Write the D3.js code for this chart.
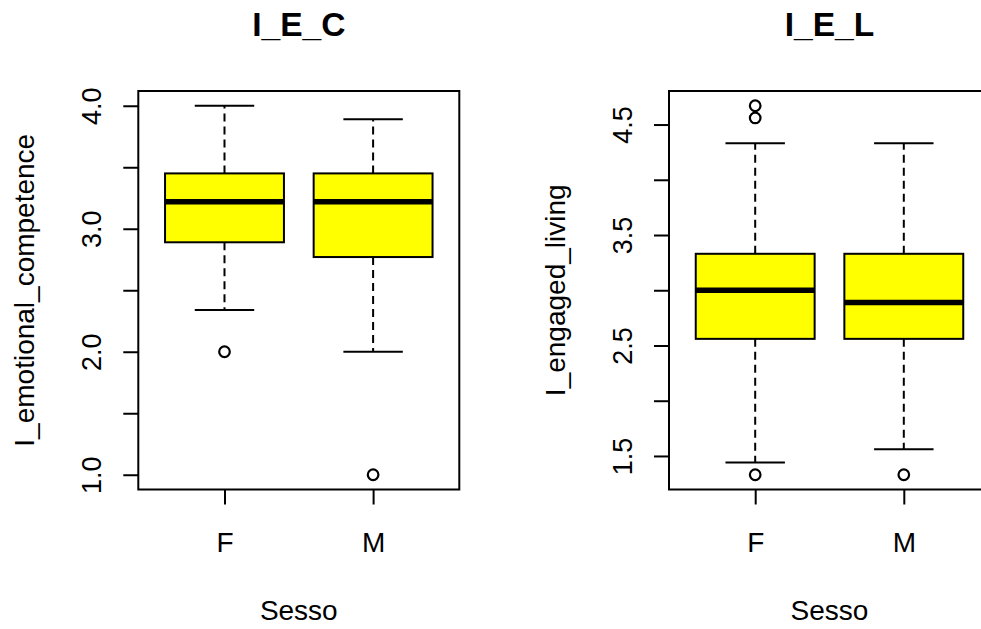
<!DOCTYPE html>
<html>
<head>
<meta charset="utf-8">
<script src="https://cdn.jsdelivr.net/npm/d3@7"></script>
<style>
  body { margin: 0; background: #fff; }
  svg { display: block; font-family: "Liberation Sans", Arial, Helvetica, sans-serif; }
</style>
</head>
<body>
<div id="chart"></div>
<script>
// Data
const groups = ["F", "M"];

// [lower whisker, Q1, median, Q3, upper whisker]
const iecStats = [
  [2.34, 2.89, 3.22, 3.45, 4.00],
  [2.00, 2.77, 3.22, 3.45, 3.89]
];
const iecOutliers = [[2.0], [1.0]];
const iecTicks = [1.0, 1.5, 2.0, 2.5, 3.0, 3.5, 4.0];
const iecTickLabels = [1.0, 2.0, 3.0, 4.0];

const ielStats = [
  [1.44, 2.56, 3.00, 3.33, 4.33],
  [1.56, 2.56, 2.89, 3.33, 4.33]
];
const ielOutliers = [[4.67, 4.56, 1.33], [1.33]];
const ielTicks = [1.5, 2.0, 2.5, 3.0, 3.5, 4.0, 4.5];
const ielTickLabels = [1.5, 2.5, 3.5, 4.5];

const titles = ["I_E_C", "I_E_L"];
const yLabels = ["I_emotional_competence", "I_engaged_living"];
const xLabel = "Sesso";

const WIDTH = 981, HEIGHT = 629;
const PLOT = { TOP: 91, BOTTOM: 489.5, W: 321 };
const panelLefts = [138.3, 669];
const LW = 2;

const svg = d3.select("#chart").append("svg")
  .attr("width", WIDTH)
  .attr("height", HEIGHT);

const panels = [
  { stats: iecStats, outliers: iecOutliers, ticks: iecTicks, labels: iecTickLabels },
  { stats: ielStats, outliers: ielOutliers, ticks: ielTicks, labels: ielTickLabels }
];

panels.forEach((p, i) => {
  const left = panelLefts[i];
  const g = svg.append("g").attr("transform", `translate(${left}, ${PLOT.TOP})`);
  const h = PLOT.BOTTOM - PLOT.TOP;

  // R style scales: 4% extension on both axes
  const x = d3.scaleLinear().domain([0.42, 2.58]).range([0, PLOT.W]);
  const allVals = p.stats.flat().concat(p.outliers.flat());
  const lo = d3.min(allVals), hi = d3.max(allVals);
  const pad = (hi - lo) * 0.04;
  const y = d3.scaleLinear().domain([lo - pad, hi + pad]).range([h, 0]);

  // Axes
  const yAxis = d3.axisLeft(y)
    .tickValues(p.ticks)
    .tickSize(15)
    .tickFormat(d => p.labels.includes(d) ? d3.format(".1f")(d) : "");
  const yg = g.append("g").call(yAxis);
  yg.select(".domain").remove();
  yg.selectAll(".tick line").attr("stroke", "#000").attr("stroke-width", LW);
  yg.selectAll(".tick text")
    .attr("x", null).attr("dy", null)
    .attr("transform", "translate(-37, 0) rotate(-90)")
    .attr("text-anchor", "middle")
    .attr("font-size", "27px")
    .attr("font-family", "Liberation Sans, Arial, sans-serif")
    .attr("fill", "#000");

  const xAxis = d3.axisBottom(x)
    .tickValues([1, 2])
    .tickSize(15)
    .tickFormat((d, j) => groups[j]);
  const xg = g.append("g").attr("transform", `translate(0, ${h})`).call(xAxis);
  xg.select(".domain").remove();
  xg.selectAll(".tick line").attr("stroke", "#000").attr("stroke-width", LW);
  xg.selectAll(".tick text")
    .attr("y", 62).attr("dy", null)
    .attr("font-size", "28px")
    .attr("font-family", "Liberation Sans, Arial, sans-serif")
    .attr("fill", "#000");

  // Boxes
  const boxW = x(1.4) - x(1);
  const stapleW = x(1.2) - x(1);
  const boxes = g.selectAll(".box")
    .data(p.stats)
    .enter().append("g")
    .attr("class", "box");

  // whiskers (dashed)
  boxes.append("line")
    .attr("x1", (d, j) => x(j + 1)).attr("x2", (d, j) => x(j + 1))
    .attr("y1", d => y(d[3])).attr("y2", d => y(d[4]))
    .attr("stroke", "#000").attr("stroke-width", LW).attr("stroke-dasharray", "8,5");
  boxes.append("line")
    .attr("x1", (d, j) => x(j + 1)).attr("x2", (d, j) => x(j + 1))
    .attr("y1", d => y(d[1])).attr("y2", d => y(d[0]))
    .attr("stroke", "#000").attr("stroke-width", LW).attr("stroke-dasharray", "8,5");
  // staples
  [0, 4].forEach(k => {
    boxes.append("line")
      .attr("x1", (d, j) => x(j + 1) - stapleW).attr("x2", (d, j) => x(j + 1) + stapleW)
      .attr("y1", d => y(d[k])).attr("y2", d => y(d[k]))
      .attr("stroke", "#000").attr("stroke-width", LW);
  });
  // box body
  boxes.append("rect")
    .attr("x", (d, j) => x(j + 1) - boxW)
    .attr("width", boxW * 2)
    .attr("y", d => y(d[3]))
    .attr("height", d => y(d[1]) - y(d[3]))
    .attr("fill", "#ffff00")
    .attr("stroke", "#000").attr("stroke-width", LW);
  // median
  boxes.append("line")
    .attr("x1", (d, j) => x(j + 1) - boxW).attr("x2", (d, j) => x(j + 1) + boxW)
    .attr("y1", d => y(d[2])).attr("y2", d => y(d[2]))
    .attr("stroke", "#000").attr("stroke-width", 5.5);

  // outliers
  const pts = p.outliers.flatMap((arr, j) => arr.map(v => ({ j, v })));
  g.selectAll(".outlier")
    .data(pts)
    .enter().append("circle")
    .attr("class", "outlier")
    .attr("cx", d => x(d.j + 1))
    .attr("cy", d => y(d.v))
    .attr("r", 5.3)
    .attr("fill", "none")
    .attr("stroke", "#000").attr("stroke-width", 2.2);

  // plot frame
  g.append("rect")
    .attr("width", PLOT.W).attr("height", h)
    .attr("fill", "none").attr("stroke", "#000").attr("stroke-width", LW);

  // Labels
  svg.append("text")
    .attr("x", left + PLOT.W / 2).attr("y", 36)
    .attr("text-anchor", "middle")
    .attr("font-size", "33.6px").attr("font-weight", "bold")
    .text(titles[i]);

  svg.append("text")
    .attr("x", left + PLOT.W / 2).attr("y", 620)
    .attr("text-anchor", "middle")
    .attr("font-size", "28px")
    .text(xLabel);

  const yLabelX = left - 104;
  svg.append("text")
    .attr("transform", `translate(${yLabelX}, ${(PLOT.TOP + PLOT.BOTTOM) / 2}) rotate(-90)`)
    .attr("text-anchor", "middle")
    .attr("font-size", "28px")
    .text(yLabels[i]);
});
</script>
</body>
</html>
